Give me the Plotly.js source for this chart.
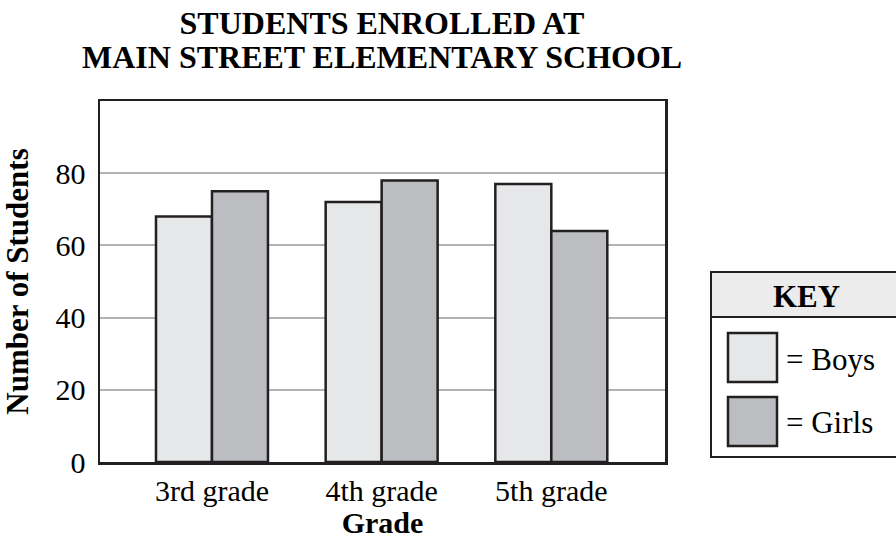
<!DOCTYPE html>
<html>
<head>
<meta charset="utf-8">
<script src="https://cdn.plot.ly/plotly-3.0.1.min.js"></script>
<style>html,body{margin:0;padding:0;background:#fff;}#chart{width:896px;height:539px;}</style>
</head>
<body>
<div id="chart"></div>
<script>
const grades = ["3rd grade", "4th grade", "5th grade"];
const boys = [68, 72, 77];
const girls = [75, 78, 64];
const seriesNames = ["Boys", "Girls"];
const yTicks = [0, 20, 40, 60, 80];
const titleLines = ["STUDENTS ENROLLED AT", "MAIN STREET ELEMENTARY SCHOOL"];

const BOY_FILL = "#e6e7e8";
const GIRL_FILL = "#bcbdc0";
const EDGE = "#231f20";
const FONT = "Liberation Serif, Times New Roman, serif";

const W = 896, H = 539;
const M = {l: 100, r: 231, t: 101, b: 77};
const pw = W - M.l - M.r, ph = H - M.t - M.b;
const px = x => (x - M.l) / pw;
const py = y => (H - M.b - y) / ph;

const traces = [
  {type: "bar", name: seriesNames[0], x: grades, y: boys,
   marker: {color: BOY_FILL, line: {color: EDGE, width: 2.5}}},
  {type: "bar", name: seriesNames[1], x: grades, y: girls,
   marker: {color: GIRL_FILL, line: {color: EDGE, width: 2.5}}}
];

const shapes = [
  {type: "rect", xref: "paper", yref: "paper", x0: px(711), x1: px(905), y0: py(457), y1: py(272),
   line: {color: EDGE, width: 2}, fillcolor: "#ffffff", layer: "above"},
  {type: "rect", xref: "paper", yref: "paper", x0: px(711), x1: px(905), y0: py(317), y1: py(272),
   line: {color: EDGE, width: 2}, fillcolor: "#ececed", layer: "above"},
  {type: "rect", xref: "paper", yref: "paper", x0: px(728), x1: px(777), y0: py(382), y1: py(333),
   line: {color: EDGE, width: 2.5}, fillcolor: BOY_FILL, layer: "above"},
  {type: "rect", xref: "paper", yref: "paper", x0: px(728), x1: px(777), y0: py(446), y1: py(397),
   line: {color: EDGE, width: 2.5}, fillcolor: GIRL_FILL, layer: "above"}
];

const annotations = [
  {xref: "paper", yref: "paper", x: px(382), y: py(57), text: "<b>" + titleLines[1] + "</b>", showarrow: false,
   font: {family: FONT, size: 32, color: "#000"}, xanchor: "center", yanchor: "middle"},
  {xref: "paper", yref: "paper", x: px(806), y: py(296), text: "<b>KEY</b>", showarrow: false,
   font: {family: FONT, size: 31, color: "#000"}, xanchor: "center", yanchor: "middle"},
  {xref: "paper", yref: "paper", x: px(784), y: py(359), text: "= " + seriesNames[0], showarrow: false,
   font: {family: FONT, size: 31, color: "#000"}, xanchor: "left", yanchor: "middle"},
  {xref: "paper", yref: "paper", x: px(784), y: py(422), text: "= " + seriesNames[1], showarrow: false,
   font: {family: FONT, size: 31, color: "#000"}, xanchor: "left", yanchor: "middle"}
];

const layout = {
  width: W, height: H,
  margin: M,
  paper_bgcolor: "#fff", plot_bgcolor: "#fff",
  showlegend: false,
  barmode: "group",
  bargap: 0.34, bargroupgap: 0,
  title: {text: "<b>" + titleLines[0] + "</b>",
          font: {family: FONT, size: 32, color: "#000"},
          x: px(382), xref: "paper", xanchor: "center",
          y: 1 - 23 / H, yref: "container", yanchor: "middle"},
  xaxis: {
    range: [-0.66, 2.67],
    showline: true, mirror: true, linecolor: EDGE, linewidth: 2.5,
    showgrid: false, ticks: "", zeroline: false,
    tickfont: {family: FONT, size: 30, color: "#000"},
    title: {text: "<b>Grade</b>", font: {family: FONT, size: 30, color: "#000"}}
  },
  yaxis: {
    range: [0, 100],
    tickvals: yTicks,
    showline: true, mirror: true, linecolor: EDGE, linewidth: 2.5,
    showgrid: true, gridcolor: "#b3b3b3", gridwidth: 2,
    zeroline: false, ticks: "", ticklabelstandoff: 6,
    tickfont: {family: FONT, size: 30, color: "#000"},
    title: {text: "<b>Number of Students</b>", font: {family: FONT, size: 31, color: "#000"}}
  },
  shapes: shapes,
  annotations: annotations
};

Plotly.newPlot("chart", traces, layout, {displayModeBar: false, staticPlot: true});
</script>
</body>
</html>
